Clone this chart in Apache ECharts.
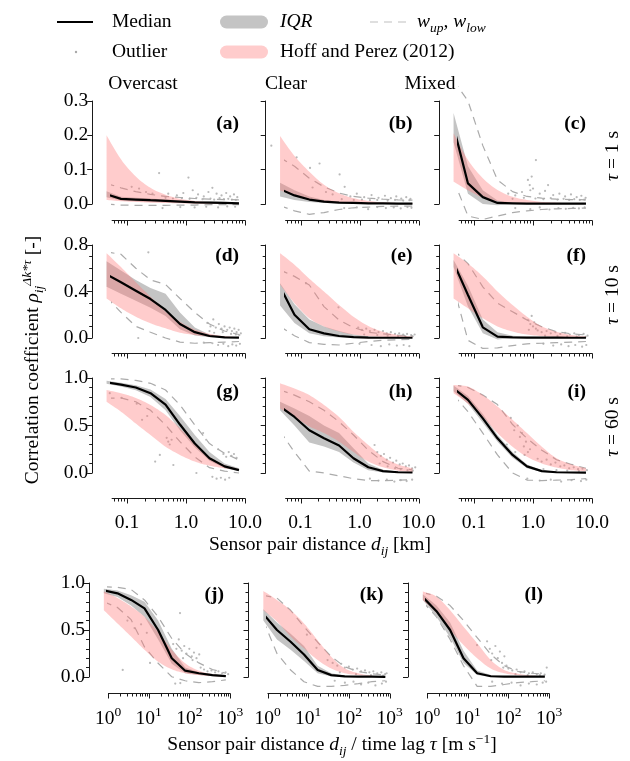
<!DOCTYPE html>
<html><head><meta charset="utf-8">
<script src="https://cdn.jsdelivr.net/npm/echarts@6/dist/echarts.min.js"></script>
<style>html,body{margin:0;padding:0;background:#fff}#c{width:630px;height:761px}</style>
</head><body><div id="c"></div>
<script>
// ---------------- data ----------------
const xKm  = [0.045, 0.079, 0.141, 0.25, 0.45, 0.79, 1.41, 2.5, 4.5, 7.9];
const xVel = [0.79, 1.71, 3.7, 7.9, 17.1, 37, 79, 171, 370, 790];
const majorKm  = [0.1, 1, 10];
const minorKm  = [0.06,0.07,0.08,0.09,0.2,0.3,0.4,0.5,0.6,0.7,0.8,0.9,2,3,4,5,6,7,8,9];
const majorVel = [1, 10, 100, 1000];
const minorVel = [2,3,4,5,6,7,8,9,20,30,40,50,60,70,80,90,200,300,400,500,600,700,800,900];
const columnTitles = ['Overcast', 'Clear', 'Mixed'];
const tauLabels = ['1', '10', '60'];
const panelLetters = ['a','b','c','d','e','f','g','h','i','j','k','l'];

// (a) overcast, tau=1 s
const medA   = [0.028,0.015,0.013,0.011,0.009,0.007,0.005,0.004,0.003,0.002];
const iqrLoA = [0.02,0.01,0.008,0.006,0.005,0.004,0.003,0.002,0.001,0.001];
const iqrHiA = [0.037,0.021,0.018,0.016,0.013,0.011,0.009,0.007,0.006,0.005];
const wUpA   = [0.06,0.047,0.036,0.028,0.022,0.019,0.016,0.014,0.013,0.012];
const wLoA   = [0.0,-0.003,-0.004,-0.004,-0.004,-0.003,-0.003,-0.002,-0.002,-0.002];
const hpLoA  = [0.012,0.008,0.006,0.004,0.003,0.002,0.001,0.001,0.0,0.0];
const hpHiA  = [0.2,0.13,0.08,0.047,0.027,0.015,0.009,0.005,0.003,0.002];
const outA = [[0.35,0.09],[1.1,0.077],[2.8,0.047],[0.16,0.045],[0.21,0.035],[0.27,0.03],[0.12,0.05],[0.5,0.03],[0.7,0.025],[0.9,0.032],[1.3,0.04],[1.6,0.028],[2.0,0.022],[2.4,0.035],[3.3,0.03],[4.0,0.025],[4.8,0.032],[5.6,0.022],[6.5,0.028],[7.4,0.02],[0.45,0.018],[0.6,0.016],[0.85,0.017],[1.15,0.015],[1.5,0.018],[1.9,0.014],[2.6,0.016],[3.0,0.013],[3.7,0.017],[4.4,0.014],[5.2,0.015],[6.0,0.013],[7.0,0.012],[0.4,-0.012],[0.8,-0.009],[1.4,-0.01],[2.2,-0.008],[3.5,-0.01],[5.0,-0.007],[6.8,-0.008]];

// (b) clear, tau=1 s
const medB   = [0.043,0.025,0.013,0.007,0.004,0.003,0.002,0.002,0.001,0.001];
const iqrLoB = [0.022,0.012,0.006,0.003,0.002,0.001,0.001,0.0,0.0,0.0];
const iqrHiB = [0.062,0.04,0.022,0.012,0.007,0.005,0.004,0.003,0.002,0.002];
const wUpB   = [0.135,0.11,0.075,0.05,0.032,0.022,0.017,0.014,0.012,0.011];
const wLoB   = [-0.005,-0.02,-0.03,-0.025,-0.016,-0.011,-0.009,-0.007,-0.006,-0.006];
const hpLoB  = [0.04,0.025,0.014,0.008,0.004,0.002,0.001,0.001,0.0,0.0];
const hpHiB  = [0.198,0.14,0.094,0.056,0.031,0.017,0.009,0.005,0.003,0.002];
const outB = [[0.032,0.17],[0.086,0.136],[0.145,0.105],[0.21,0.118],[0.46,0.086],[0.56,0.05],[0.16,0.048],[0.27,0.035],[0.35,0.028],[0.7,0.022],[0.9,0.03],[1.2,0.02],[1.6,0.026],[2.1,0.018],[2.7,0.024],[3.4,0.017],[4.2,0.022],[5.1,0.016],[6.2,0.02],[7.3,0.015],[0.5,0.014],[0.8,0.012],[1.1,0.013],[1.5,0.011],[2.0,0.012],[3.0,0.01],[4.0,0.012],[5.5,0.01],[7.0,0.011],[0.55,-0.012],[0.9,-0.01],[1.4,-0.015],[2.0,-0.009],[2.8,-0.012],[3.8,-0.01],[5.0,-0.013],[6.5,-0.009],[7.6,-0.011]];

// (c) mixed, tau=1 s
const medC   = [0.225,0.06,0.02,0.003,0.002,0.001,0.001,0.001,0.001,0.001];
const iqrLoC = [0.18,0.03,0.0,-0.004,0.0,0.0,0.0,0.0,0.0,0.0];
const iqrHiC = [0.265,0.11,0.04,0.01,0.004,0.003,0.003,0.002,0.002,0.002];
const wUpC   = [0.36,0.3,0.17,0.07,0.036,0.022,0.017,0.014,0.013,0.012];
const wLoC   = [0.07,-0.035,-0.045,-0.035,-0.025,-0.02,-0.016,-0.014,-0.013,-0.012];
const hpLoC  = [0.065,0.04,0.018,0.008,0.004,0.002,0.001,0.0,0.0,0.0];
const hpHiC  = [0.206,0.128,0.075,0.041,0.021,0.012,0.006,0.004,0.002,0.001];
const outC = [[1.12,0.128],[0.82,0.07],[0.88,0.055],[0.95,0.08],[1.0,0.045],[0.9,0.04],[1.8,0.055],[0.38,0.03],[0.5,0.025],[0.65,0.035],[1.3,0.03],[1.6,0.038],[2.2,0.026],[2.8,0.03],[3.5,0.022],[4.4,0.028],[5.5,0.02],[6.6,0.024],[7.8,0.018],[0.45,0.015],[0.7,0.018],[1.1,0.016],[1.5,0.014],[2.0,0.017],[2.6,0.013],[3.3,0.015],[4.1,0.012],[5.0,0.014],[6.2,0.012],[7.4,0.013],[0.5,-0.012],[0.9,-0.015],[1.3,-0.01],[1.9,-0.016],[2.7,-0.012],[3.6,-0.014],[4.8,-0.011],[6.0,-0.013],[7.5,-0.01]];

// (d) overcast, tau=10 s
const medD   = [0.548,0.479,0.407,0.335,0.241,0.12,0.05,0.017,0.006,0.003];
const iqrLoD = [0.44,0.38,0.32,0.26,0.19,0.075,0.022,0.006,0.002,0.001];
const iqrHiD = [0.66,0.58,0.5,0.43,0.38,0.22,0.09,0.03,0.012,0.006];
const wUpD   = [0.74,0.72,0.6,0.5,0.46,0.34,0.22,0.12,0.06,0.03];
const wLoD   = [0.35,0.22,0.1,0.05,0.0,-0.035,-0.045,-0.04,-0.035,-0.03];
const hpLoD  = [0.34,0.255,0.183,0.126,0.083,0.046,0.026,0.012,0.006,0.003];
const hpHiD  = [0.73,0.61,0.48,0.355,0.226,0.14,0.072,0.036,0.015,0.008];
const outD = [[0.23,0.737],[0.155,0.0],[2.3,0.13],[2.6,0.1],[2.9,0.16],[3.2,0.09],[3.6,0.12],[4.0,0.08],[4.5,0.1],[5.0,0.07],[5.5,0.09],[6.0,0.06],[6.6,0.08],[7.2,0.05],[7.8,0.07],[8.5,0.04],[2.5,0.06],[3.0,0.045],[4.2,0.05],[5.8,0.035],[7.0,0.03],[8.0,0.025],[2.8,-0.045],[3.5,-0.06],[4.3,-0.05],[5.2,-0.07],[6.1,-0.055],[7.1,-0.065],[8.2,-0.05],[2.0,-0.04]];

// (e) clear, tau=10 s
const medE   = [0.44,0.2,0.075,0.04,0.017,0.007,0.004,0.002,0.002,0.002];
const iqrLoE = [0.28,0.13,0.04,0.015,0.005,0.002,0.001,0.0,0.0,0.0];
const iqrHiE = [0.47,0.29,0.16,0.1,0.06,0.03,0.015,0.008,0.005,0.004];
const wUpE   = [0.585,0.53,0.456,0.27,0.155,0.09,0.05,0.035,0.025,0.02];
const wLoE   = [0.1,0.02,-0.04,-0.055,-0.06,-0.045,-0.03,-0.02,-0.015,-0.01];
const hpLoE  = [0.46,0.3,0.17,0.1,0.055,0.03,0.017,0.01,0.006,0.004];
const hpHiE  = [0.73,0.63,0.51,0.4,0.284,0.183,0.103,0.054,0.026,0.012];
const outE = [[0.124,0.47],[0.44,0.264],[0.95,0.09],[1.1,0.07],[1.3,0.08],[1.5,0.06],[1.8,0.07],[2.1,0.05],[2.5,0.06],[2.9,0.04],[3.4,0.05],[4.0,0.035],[4.7,0.04],[5.5,0.03],[6.4,0.035],[7.5,0.025],[8.6,0.03],[1.2,0.03],[2.0,0.025],[3.0,0.02],[4.5,0.018],[6.0,0.015],[8.0,0.015],[1.0,-0.05],[1.6,-0.06],[2.3,-0.07],[3.2,-0.055],[4.3,-0.065],[5.6,-0.06],[7.0,-0.07]];

// (f) mixed, tau=10 s
const medF   = [0.648,0.37,0.092,0.012,0.005,0.004,0.003,0.003,0.002,0.002];
const iqrLoF = [0.61,0.27,0.04,-0.012,0.0,0.0,0.0,0.0,0.0,0.0];
const iqrHiF = [0.67,0.45,0.16,0.05,0.02,0.01,0.008,0.006,0.005,0.004];
const wUpF   = [0.757,0.64,0.44,0.3,0.226,0.155,0.097,0.054,0.036,0.026];
const wLoF   = [0.44,-0.02,-0.09,-0.085,-0.065,-0.05,-0.045,-0.04,-0.035,-0.03];
const hpLoF  = [0.34,0.255,0.17,0.1,0.055,0.03,0.017,0.01,0.006,0.004];
const hpHiF  = [0.73,0.64,0.53,0.4,0.284,0.183,0.1,0.054,0.026,0.012];
const outF = [[0.82,0.155],[0.9,0.12],[0.95,0.19],[1.0,0.1],[1.05,0.135],[1.12,0.08],[0.85,0.07],[1.2,0.065],[1.4,0.05],[1.7,0.06],[2.0,0.04],[2.4,0.05],[2.9,0.035],[3.5,0.045],[4.2,0.03],[5.0,0.04],[6.0,0.025],[7.2,0.035],[8.4,0.02],[1.6,0.02],[2.6,0.018],[3.8,0.015],[5.5,0.012],[7.8,0.01],[1.5,-0.05],[2.2,-0.065],[3.0,-0.055],[4.0,-0.07],[5.2,-0.06],[6.8,-0.075],[8.0,-0.06]];

// (g) overcast, tau=60 s
const medG   = [0.955,0.93,0.9,0.84,0.72,0.51,0.31,0.155,0.07,0.03];
const iqrLoG = [0.94,0.91,0.87,0.8,0.66,0.45,0.27,0.13,0.05,0.02];
const iqrHiG = [0.97,0.95,0.925,0.88,0.78,0.6,0.4,0.22,0.1,0.05];
const wUpG   = [0.99,0.99,0.975,0.944,0.874,0.716,0.505,0.31,0.207,0.137];
const wLoG   = [0.786,0.79,0.75,0.66,0.505,0.33,0.17,0.056,0.02,0.0];
const hpLoG  = [0.75,0.645,0.52,0.4,0.277,0.19,0.12,0.077,0.05,0.03];
const hpHiG  = [0.874,0.84,0.79,0.716,0.61,0.47,0.31,0.17,0.084,0.04];
const outG = [[0.051,0.84],[0.081,0.79],[0.146,0.73],[0.18,0.56],[0.22,0.6],[0.47,0.37],[0.5,0.33],[0.53,0.3],[0.57,0.35],[0.36,0.19],[0.61,0.084],[0.3,0.12],[1.95,0.42],[2.2,0.35],[4.3,0.2],[4.8,0.17],[5.3,0.22],[5.9,0.18],[6.5,0.2],[7.2,0.16],[3.5,0.25],[2.8,-0.04],[3.3,-0.06],[3.9,-0.05],[4.6,-0.07],[5.4,-0.05],[1.5,0.0]];

// (h) clear, tau=60 s
const medH   = [0.70,0.59,0.45,0.365,0.29,0.155,0.06,0.02,0.008,0.005];
const iqrLoH = [0.66,0.5,0.32,0.28,0.22,0.11,0.03,0.005,0.0,0.0];
const iqrHiH = [0.75,0.68,0.6,0.5,0.42,0.26,0.1,0.035,0.015,0.01];
const wUpH   = [0.874,0.82,0.75,0.66,0.54,0.4,0.24,0.12,0.05,0.033];
const wLoH   = [0.44,0.22,0.02,0.0,-0.03,-0.06,-0.08,-0.08,-0.075,-0.07];
const hpLoH  = [0.68,0.59,0.49,0.42,0.33,0.22,0.12,0.06,0.025,0.01];
const hpHiH  = [0.944,0.89,0.82,0.716,0.59,0.435,0.295,0.17,0.09,0.05];
const outH = [[1.8,0.295],[2.0,0.22],[2.3,0.18],[2.6,0.2],[2.9,0.14],[3.3,0.16],[3.7,0.11],[4.2,0.13],[4.8,0.09],[5.4,0.1],[6.1,0.07],[6.9,0.08],[7.8,0.05],[8.8,0.06],[2.2,0.1],[3.0,0.07],[4.0,0.05],[5.0,0.04],[6.5,0.03],[8.0,0.025],[1.5,-0.06],[2.1,-0.08],[2.9,-0.07],[3.9,-0.09],[5.0,-0.075],[6.3,-0.085],[7.8,-0.07]];

// (i) mixed, tau=60 s
const medI   = [0.89,0.77,0.575,0.365,0.19,0.07,0.02,0.008,0.005,0.004];
const iqrLoI = [0.86,0.73,0.53,0.33,0.16,0.05,0.01,0.0,0.0,0.0];
const iqrHiI = [0.92,0.81,0.62,0.4,0.22,0.09,0.03,0.012,0.008,0.006];
const wUpI   = [0.93,0.9,0.82,0.72,0.51,0.365,0.24,0.14,0.09,0.05];
const wLoI   = [0.82,0.645,0.42,0.19,0.0,-0.074,-0.08,-0.075,-0.07,-0.06];
const hpLoI  = [0.84,0.73,0.59,0.42,0.277,0.17,0.1,0.057,0.03,0.02];
const hpHiI  = [0.926,0.91,0.82,0.7,0.56,0.42,0.277,0.155,0.09,0.05];
const outI = [[0.36,0.3],[0.42,0.58],[0.48,0.45],[0.55,0.5],[0.6,0.38],[0.65,0.42],[0.7,0.28],[0.76,0.33],[0.82,0.22],[0.89,0.25],[0.5,0.22],[0.72,0.19],[1.2,0.15],[1.4,0.12],[1.7,0.14],[2.0,0.09],[2.4,0.11],[2.9,0.07],[3.4,0.08],[4.1,0.05],[4.9,0.06],[5.8,0.04],[6.9,0.045],[8.2,0.03],[1.5,0.04],[2.5,0.03],[3.8,0.025],[6.0,0.02],[0.8,-0.06],[1.3,-0.08],[2.0,-0.07],[3.0,-0.09],[4.5,-0.075],[6.5,-0.085],[8.0,-0.07]];

// (j) overcast, distance / time lag
const medJ   = [0.92,0.89,0.82,0.73,0.5,0.2,0.067,0.04,0.02,0.01];
const iqrLoJ = [0.89,0.85,0.76,0.64,0.4,0.14,0.04,0.02,0.008,0.002];
const iqrHiJ = [0.94,0.92,0.87,0.8,0.6,0.3,0.1,0.05,0.03,0.015];
const wUpJ   = [0.96,0.955,0.93,0.82,0.64,0.41,0.25,0.15,0.08,0.04];
const wLoJ   = [0.8,0.74,0.61,0.32,0.146,0.003,-0.04,-0.06,-0.05,-0.03];
const hpLoJ  = [0.71,0.57,0.43,0.29,0.163,0.082,0.04,0.02,0.01,0.005];
const hpHiJ  = [0.91,0.84,0.75,0.64,0.48,0.29,0.146,0.067,0.03,0.012];
const outJ = [[3,0.6],[4.5,0.52],[6.5,0.56],[9,0.47],[2.3,0.075],[10.8,0.15],[59,0.68],[40,0.35],[48,0.3],[55,0.4],[65,0.28],[75,0.33],[85,0.25],[100,0.3],[115,0.22],[130,0.26],[150,0.2],[175,0.24],[70,0.2],[120,0.18],[190,0.1],[230,0.08],[280,0.06],[350,0.07],[430,0.05],[520,0.06],[640,0.04],[780,0.05],[900,0.03],[300,0.02],[600,0.015],[45,-0.07],[60,-0.065]];

// (k) clear, distance / time lag
const medK   = [0.67,0.5,0.375,0.24,0.075,0.02,0.006,0.004,0.003,0.002];
const iqrLoK = [0.6,0.4,0.29,0.17,0.04,0.005,0.0,0.0,0.0,0.0];
const iqrHiK = [0.72,0.58,0.46,0.33,0.12,0.04,0.015,0.008,0.005,0.004];
const wUpK   = [0.87,0.84,0.71,0.535,0.37,0.216,0.11,0.057,0.035,0.02];
const wLoK   = [0.6,0.25,0.074,-0.05,-0.1,-0.1,-0.09,-0.07,-0.05,-0.04];
const hpLoK  = [0.71,0.59,0.43,0.305,0.18,0.09,0.04,0.02,0.01,0.005];
const hpHiK  = [0.915,0.82,0.71,0.57,0.39,0.216,0.092,0.04,0.013,0.005];
const outK = [[16,0.31],[9.3,0.45],[30,0.18],[40,0.15],[52,0.12],[65,0.14],[80,0.1],[100,0.11],[125,0.08],[160,0.09],[200,0.06],[250,0.07],[320,0.05],[400,0.06],[500,0.04],[630,0.05],[780,0.03],[850,0.04],[60,0.05],[150,0.03],[350,0.02],[700,0.015],[45,-0.04],[80,-0.06],[130,-0.05],[200,-0.08],[300,-0.06],[450,-0.09],[650,-0.07],[820,-0.05]];

// (l) mixed, distance / time lag
const medL   = [0.85,0.70,0.5,0.2,0.04,0.008,0.004,0.004,0.003,0.003];
const iqrLoL = [0.82,0.64,0.42,0.15,0.02,0.0,0.0,0.0,0.0,0.0];
const iqrHiL = [0.88,0.76,0.58,0.28,0.07,0.02,0.01,0.008,0.007,0.006];
const wUpL   = [0.9,0.86,0.76,0.6,0.42,0.24,0.12,0.06,0.04,0.03];
const wLoL   = [0.8,0.64,0.4,0.12,-0.1,-0.1,-0.08,-0.06,-0.05,-0.04];
const hpLoL  = [0.82,0.68,0.5,0.34,0.2,0.09,0.04,0.02,0.01,0.005];
const hpHiL  = [0.91,0.855,0.71,0.535,0.36,0.18,0.075,0.035,0.015,0.008];
const outL = [[17,0.34],[30,0.38],[35,0.3],[40,0.25],[48,0.33],[55,0.2],[62,0.27],[70,0.15],[80,0.22],[90,0.12],[38,0.18],[75,0.1],[100,0.09],[125,0.07],[160,0.08],[200,0.05],[250,0.06],[320,0.04],[400,0.05],[500,0.03],[630,0.04],[780,0.025],[880,0.1],[150,0.03],[300,0.02],[600,0.02],[40,-0.05],[70,-0.07],[120,-0.06],[200,-0.09],[320,-0.07],[500,-0.08],[700,-0.06],[850,-0.05]];

// ---------------- build ----------------
const panels = [
  [medA,iqrLoA,iqrHiA,wUpA,wLoA,hpLoA,hpHiA,outA],
  [medB,iqrLoB,iqrHiB,wUpB,wLoB,hpLoB,hpHiB,outB],
  [medC,iqrLoC,iqrHiC,wUpC,wLoC,hpLoC,hpHiC,outC],
  [medD,iqrLoD,iqrHiD,wUpD,wLoD,hpLoD,hpHiD,outD],
  [medE,iqrLoE,iqrHiE,wUpE,wLoE,hpLoE,hpHiE,outE],
  [medF,iqrLoF,iqrHiF,wUpF,wLoF,hpLoF,hpHiF,outF],
  [medG,iqrLoG,iqrHiG,wUpG,wLoG,hpLoG,hpHiG,outG],
  [medH,iqrLoH,iqrHiH,wUpH,wLoH,hpLoH,hpHiH,outH],
  [medI,iqrLoI,iqrHiI,wUpI,wLoI,hpLoI,hpHiI,outI],
  [medJ,iqrLoJ,iqrHiJ,wUpJ,wLoJ,hpLoJ,hpHiJ,outJ],
  [medK,iqrLoK,iqrHiK,wUpK,wLoK,hpLoK,hpHiK,outK],
  [medL,iqrLoL,iqrHiL,wUpL,wLoL,hpLoL,hpHiL,outL]
];

const FONT = 'Liberation Serif';
const FS = 19.5;
const AX = '#1a1a1a';
const GRAY = '#c4c4c4';
const PINK = 'rgba(255,120,120,0.38)';
const WHISK = '#ababab';

const rowTop = [101, 245, 378, 583];
const rowH   = [103, 93, 95, 94];
const xOff   = [16, 15, 25, 16];
const xLabelMargin = [15, 15, 15, 12];
const yCfg = [
  {max:0.3, interval:0.1, split:0},
  {max:0.8, interval:0.4, split:4},
  {max:1.0, interval:0.5, split:5},
  {max:1.0, interval:0.5, split:5}
];
function gridPos(r, c) {
  if (r < 3) return {left: 111.7 + 173.5 * c, width: 133.3};
  return {left: 108 + 159.5 * c, width: 122};
}
const zip = (xs, ys) => xs.map((x, i) => [x, ys[i]]);

// Catmull-Rom smoothing of pixel points (rendering only)
function spline(pts, steps) {
  const out = [];
  const n = pts.length;
  for (let i = 0; i < n - 1; i++) {
    const p0 = pts[Math.max(i - 1, 0)], p1 = pts[i], p2 = pts[i + 1], p3 = pts[Math.min(i + 2, n - 1)];
    for (let s = 0; s < steps; s++) {
      const t = s / steps, t2 = t * t, t3 = t2 * t;
      const f = (a, b, c, d) => 0.5 * ((2 * b) + (-a + c) * t + (2 * a - 5 * b + 4 * c - d) * t2 + (-a + 3 * b - 3 * c + d) * t3);
      out.push([f(p0[0], p1[0], p2[0], p3[0]), f(p0[1], p1[1], p2[1], p3[1])]);
    }
  }
  out.push(pts[n - 1]);
  return out;
}

function bandSeries(g, xs, lo, hi, color, smooth, z) {
  const last = xs.length - 1;
  return {
    type: 'custom', xAxisIndex: g, yAxisIndex: g, silent: true, animation: false, clip: false, z: z,
    data: xs.map((x, i) => [x, lo[i], hi[i]]),
    encode: {x: 0, y: [1, 2]},
    renderItem: function (params, api) {
      if (params.dataIndex !== last) return null;
      let up = xs.map((x, i) => api.coord([x, hi[i]]));
      let dn = xs.map((x, i) => api.coord([x, lo[i]]));
      if (smooth) { up = spline(up, 8); dn = spline(dn, 8); }
      const pts = up.concat(dn.slice().reverse());
      return {type: 'polygon', shape: {points: pts}, style: {fill: color, stroke: null}};
    }
  };
}

// log x axis line + major/minor ticks, positioned through the axis scale
function xAxisDeco(g, majors, minors, xmin, xmax, off) {
  const vals = majors.map(v => [v, 0, 1]).concat(minors.map(v => [v, 0, 0]));
  return {
    type: 'custom', xAxisIndex: g, yAxisIndex: g, silent: true, animation: false, clip: false, z: 6,
    data: vals, encode: {x: 0, y: 1},
    renderItem: function (params, api) {
      const v = api.value(0), major = api.value(2);
      const p = api.coord([v, 0]);
      const y0 = Math.round(p[1] + off) + 0.5;
      const xp = Math.round(p[0]) + 0.5;
      const children = [{type: 'line', shape: {x1: xp, y1: y0, x2: xp, y2: y0 + (major ? 5 : 3)}, style: {stroke: AX, lineWidth: 1}}];
      if (params.dataIndex === 0) {
        const a = api.coord([xmin, 0]), b = api.coord([xmax, 0]);
        children.push({type: 'line', shape: {x1: a[0], y1: y0, x2: b[0] + 0.5, y2: y0}, style: {stroke: AX, lineWidth: 1}});
      }
      return {type: 'group', children: children};
    }
  };
}

const grids = [], xAxes = [], yAxes = [], series = [], graphics = [];
const superRich = {
  b: {fontFamily: FONT, fontSize: FS, color: '#000', lineHeight: 24, verticalAlign: 'bottom'},
  s: {fontFamily: FONT, fontSize: 13.5, color: '#000', lineHeight: 12, verticalAlign: 'top'}
};

panels.forEach((p, g) => {
  const r = Math.floor(g / 3), c = g % 3;
  const gp = gridPos(r, c);
  grids.push({left: gp.left, width: gp.width, top: rowTop[r], height: rowH[r], outerBoundsMode: 'none', containLabel: false});
  const isVel = r === 3;
  const xs = isVel ? xVel : xKm;
  const majors = isVel ? majorVel : majorKm;
  const minors = isVel ? minorVel : minorKm;
  const xmin = isVel ? 1 : 0.055, xmax = isVel ? 1000 : 10;
  xAxes.push({
    type: 'log', logBase: 10, gridIndex: g, min: xmin, max: xmax, position: 'bottom', offset: xOff[r],
    splitLine: {show: false}, minorTick: {show: false}, minorSplitLine: {show: false},
    axisLine: {show: false, onZero: false},
    axisTick: {show: false},
    axisLabel: {
      show: r >= 2, customValues: majors, margin: xLabelMargin[r], color: '#000', fontFamily: FONT, fontSize: FS,
      hideOverlap: false, showMinLabel: true, showMaxLabel: true,
      formatter: isVel ? (v => '{b|10}{s|' + Math.round(Math.log10(v)) + '}') : (v => v.toFixed(1)),
      rich: isVel ? superRich : undefined
    }
  });
  yAxes.push({
    type: 'value', gridIndex: g, min: 0, max: yCfg[r].max, interval: yCfg[r].interval, position: 'left',
    offset: r < 3 ? 19.5 : 19,
    axisLine: {show: true, onZero: false, lineStyle: {color: AX, width: 1}},
    axisTick: {show: true, length: 5, lineStyle: {color: AX, width: 1}},
    minorTick: {show: yCfg[r].split > 0, splitNumber: yCfg[r].split || 5, length: 3, lineStyle: {color: AX, width: 1}},
    splitLine: {show: false}, minorSplitLine: {show: false},
    axisLabel: {show: c === 0, margin: 4, color: '#000', fontFamily: FONT, fontSize: FS, formatter: v => v.toFixed(1)}
  });
  const [med, iqrLo, iqrHi, wUp, wLo, hpLo, hpHi, out] = p;
  const base = {xAxisIndex: g, yAxisIndex: g, silent: true, animation: false, clip: false};
  series.push(Object.assign({type: 'scatter', data: out, symbolSize: 2.2, itemStyle: {color: '#a8a8a8'}, z: 1}, base));
  series.push(Object.assign({type: 'line', data: zip(xs, wUp), symbol: 'none', lineStyle: {color: WHISK, width: 1.2, type: [8, 6]}, z: 2}, base));
  series.push(Object.assign({type: 'line', data: zip(xs, wLo), symbol: 'none', lineStyle: {color: WHISK, width: 1.2, type: [8, 6]}, z: 2}, base));
  series.push(bandSeries(g, xs, iqrLo, iqrHi, GRAY, false, 3));
  series.push(bandSeries(g, xs, hpLo, hpHi, PINK, true, 4));
  series.push(Object.assign({type: 'line', data: zip(xs, med), symbol: 'none', lineStyle: {color: '#000', width: 2.2}, z: 5}, base));
  series.push(xAxisDeco(g, majors, minors, xmin, xmax, xOff[r]));

  const labOff = [23, 11, 14, 12][r];
  graphics.push({type: 'text', x: gp.left + gp.width - 6, y: rowTop[r] + labOff, z: 10,
    style: {text: '(' + panelLetters[g] + ')', fontFamily: FONT, fontSize: FS, fontWeight: 'bold', fill: '#000', align: 'right', verticalAlign: 'middle'}});
});

const txtRich = {
  n:   {fontFamily: FONT, fontSize: FS, color: '#000', lineHeight: 26, verticalAlign: 'middle'},
  it:  {fontFamily: FONT, fontSize: FS, fontStyle: 'italic', color: '#000', lineHeight: 26, verticalAlign: 'middle'},
  sub: {fontFamily: FONT, fontSize: 13.5, fontStyle: 'italic', color: '#000', lineHeight: 10, verticalAlign: 'bottom'},
  sup: {fontFamily: FONT, fontSize: 13.5, fontStyle: 'italic', color: '#000', lineHeight: 10, verticalAlign: 'top'},
  supr:{fontFamily: FONT, fontSize: 13.5, color: '#000', lineHeight: 10, verticalAlign: 'top'}
};
const T = (x, y, text, extra) => Object.assign({type: 'text', x: x, y: y, z: 10,
  style: Object.assign({text: text, rich: txtRich, fontFamily: FONT, fontSize: FS, fill: '#000', align: 'left', verticalAlign: 'middle'}, (extra && extra.style) || {})},
  extra ? {rotation: extra.rotation || 0} : {});

// legend
graphics.push({type: 'line', z: 10, shape: {x1: 57, y1: 22, x2: 93, y2: 22}, style: {stroke: '#000', lineWidth: 2.2}});
graphics.push(T(112, 22, '{n|Median}'));
graphics.push({type: 'rect', z: 10, shape: {x: 220, y: 15.5, width: 48, height: 13, r: 6.5}, style: {fill: GRAY}});
graphics.push(T(280, 22, '{it|IQR}'));
graphics.push({type: 'line', z: 10, shape: {x1: 370, y1: 22, x2: 408, y2: 22}, style: {stroke: '#c0c0c0', lineWidth: 1.2, lineDash: [8, 6]}});
graphics.push(T(417, 22, '{it|w}{sub|up}{it|, w}{sub|low}'));
graphics.push({type: 'circle', z: 10, shape: {cx: 76, cy: 52, r: 1.2}, style: {fill: '#a8a8a8'}});
graphics.push(T(112, 52, '{n|Outlier}'));
graphics.push({type: 'rect', z: 10, shape: {x: 220, y: 45.5, width: 48, height: 13, r: 6.5}, style: {fill: PINK}});
graphics.push(T(280, 52, '{n|Hoff and Perez (2012)}'));

// column titles
[143, 286, 430].forEach((x, i) => graphics.push(T(x, 84, '{n|' + columnTitles[i] + '}', {style: {align: 'center'}})));

// row labels (rotated)
[156, 295, 427].forEach((y, i) => graphics.push(T(613, y, '{it|τ}{n| = ' + tauLabels[i] + ' s}', {rotation: Math.PI / 2, style: {align: 'center'}})));

// axis titles
graphics.push(T(320, 545, '{n|Sensor pair distance }{it|d}{sub|ij}{n| [km]}', {style: {align: 'center'}}));
graphics.push(T(332, 745, '{n|Sensor pair distance }{it|d}{sub|ij}{n| / time lag }{it|τ}{n| [m s}{supr|−1}{n|]}', {style: {align: 'center'}}));
graphics.push(T(33, 360, '{n|Correlation coefficient }{it|ρ}{sub|ij}{sup|Δk*τ}{n| [-]}', {rotation: Math.PI / 2, style: {align: 'center'}}));

const chart = echarts.init(document.getElementById('c'), null, {renderer: 'canvas'});
chart.setOption({
  animation: false,
  backgroundColor: '#fff',
  grid: grids,
  xAxis: xAxes,
  yAxis: yAxes,
  series: series,
  graphic: graphics
});
</script></body></html>
